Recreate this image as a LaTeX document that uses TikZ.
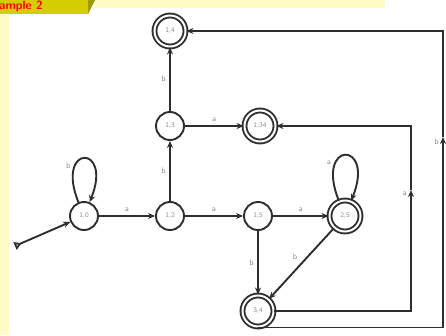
\documentclass[tikz,border=0pt]{standalone}
\usepackage{tikz}
\usetikzlibrary{arrows.meta, positioning}
\tikzset{every node/.style={font=\sffamily}}
\usepackage{xcolor}
\definecolor{edgegray}{HTML}{2E2E2E}
\definecolor{lblgray}{HTML}{8C8C8C}
\definecolor{framey}{HTML}{FFFCC6}
\definecolor{tabolive}{HTML}{D4CE00}

\begin{document}
\begin{tikzpicture}[x=1pt, y=1pt, on grid,
    st/.style={circle, draw=edgegray, line width=1.9pt, minimum size=28pt, inner sep=0pt, font=\sffamily\scriptsize, text=lblgray},
    acc/.style={st, double=white, double distance=2pt, minimum size=31pt},
    tr/.style={-{Stealth[length=7pt, width=6pt]}, draw=edgegray, line width=1.9pt},
    lbl/.style={font=\sffamily\footnotesize, text=lblgray}]
    \useasboundingbox[fill=white] (0,0) rectangle (446,335);
    \fill[framey] (0,0) rectangle (9,321);
    \fill[framey] (95,327) rectangle (385,335);
    \fill[tabolive] (0,321) rectangle (88,335);
    \fill[tabolive!75!black] (88,335) -- (95,335) -- (88,321) -- cycle;
    \node[anchor=west, inner sep=0pt, text=red, font=\sffamily\bfseries\large] (tab) at (-1,329) {ample 2};

    \node[st] (q0) at (84,119) {1,0};
    \node[st, right=86pt of q0] (q1) {1,2};
    \node[st, above=90pt of q1] (q2) {1,3};
    \node[acc, above=95pt of q2] (q3) {1,4};
    \node[acc, right=90pt of q2] (q4) {1,34};
    \node[st, right=88pt of q1] (q5) {1,5};
    \node[acc, right=87pt of q5] (q6) {2,5};
    \node[acc, below=95pt of q5] (q7) {3,4};
    \coordinate (start) at (15,89);
    \coordinate (ia) at (411,145);
    \coordinate (ob) at (443,198);

    \draw[tr, {Triangle[open, reversed, length=7pt, width=8pt]}-{Stealth[length=7pt, width=6pt]}] (start) -- (q0);
    \draw[tr] (q0) .. controls +(112:78) and +(68:78) .. node[lbl, left, pos=0.3] {b} (q0);
    \draw[tr] (q0) -- node[lbl, above] {a} (q1);
    \draw[tr] (q1) -- node[lbl, left] {b} (q2);
    \draw[tr] (q2) -- node[lbl, left] {b} (q3);
    \draw[tr] (q2) -- node[lbl, above] {a} (q4);
    \draw[tr] (q1) -- node[lbl, above] {a} (q5);
    \draw[tr] (q5) -- node[lbl, above] {a} (q6);
    \draw[tr] (q6) .. controls +(112:82) and +(68:82) .. node[lbl, left, pos=0.3] {a} (q6);
    \draw[tr] (q5) -- node[lbl, left] {b} (q7);
    \draw[tr] (q6) -- node[lbl, above left] {b} (q7);
    \draw[tr] (q7) -| node[lbl, above left, pos=0.96] {a} (ia);
    \draw[tr] (ia) |- (q4);
    \draw[tr] (q7.south) -| node[lbl, above left, pos=0.97] {b} (ob);
    \draw[tr] (ob) |- (q3);
\end{tikzpicture}
\end{document}
